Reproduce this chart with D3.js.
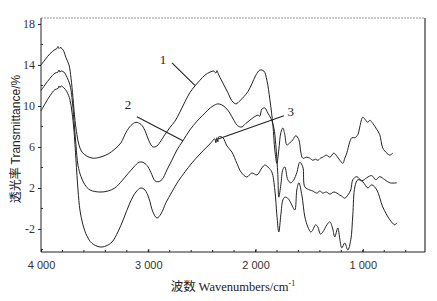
<!DOCTYPE html>
<html><head><meta charset="utf-8">
<script src="https://cdn.jsdelivr.net/npm/d3@7"></script>
<style>body{margin:0;background:#fff;} svg{display:block;}</style>
</head><body><svg id="c" width="437" height="301"></svg>
<script>
// Spectrum 1 (top)
const wn1 = [4000,3963,3916,3870,3852,3842,3832,3823,3804,3786,3767,3739,3720,3702,3683,3665,3646,3618,3571,3516,3450,3376,3311,3255,3208,3161,3115,3068,3031,2994,2957,2919,2882,2845,2798,2752,2705,2658,2612,2565,2519,2472,2425,2388,2370,2360,2350,2332,2295,2258,2220,2183,2146,2109,2071,2034,1997,1960,1922,1894,1866,1838,1820,1801,1783,1764,1745,1727,1708,1680,1652,1624,1596,1578,1559,1522,1494,1466,1440,1419,1395,1373,1340,1307,1270,1242,1214,1186,1168,1149,1121,1102,1074,1046,1028,1000,972,953,935,907,869,842,814,776,748,720,683];
const t1  = [14.0,14.5,15.1,15.5,15.6,15.8,15.6,15.7,15.6,15.3,14.7,14.0,12.7,10.8,8.6,7.2,6.2,5.5,5.1,4.9,5.0,5.3,5.8,6.4,7.4,8.1,8.4,8.2,7.6,6.6,6.0,6.1,6.6,7.2,7.9,8.5,9.4,10.4,11.3,11.95,12.5,13.0,13.3,13.4,13.2,13.45,13.2,12.8,12.05,11.3,10.5,10.2,10.5,10.9,11.4,12.15,13.0,13.5,13.4,12.5,10.6,8.15,5.7,4.4,5.7,7.4,7.85,7.2,6.2,6.4,6.7,7.1,6.7,5.5,4.9,5.0,4.9,4.7,4.8,4.7,4.9,5.0,5.2,5.0,5.4,5.1,4.7,4.4,4.9,5.4,6.5,6.9,6.9,7.2,7.95,8.9,8.6,8.4,8.6,8.3,7.7,7.2,5.9,5.4,5.2,5.4];

// Spectrum 2 (middle)
const wn2 = [4000,3963,3916,3870,3842,3832,3823,3814,3786,3758,3730,3711,3693,3674,3655,3627,3590,3543,3450,3376,3311,3245,3189,3134,3087,3050,3012,2975,2938,2910,2873,2826,2780,2733,2677,2612,2547,2491,2444,2397,2351,2314,2276,2239,2202,2165,2127,2090,2053,2016,1978,1960,1941,1913,1885,1857,1829,1811,1792,1783,1764,1745,1727,1699,1671,1643,1615,1587,1559,1540,1494,1466,1429,1400,1373,1340,1307,1270,1242,1214,1196,1168,1140,1112,1093,1056,1009,963,916,879,842,795,748,683];
const t2  = [11.5,12.05,12.7,13.2,13.3,13.5,13.3,13.4,13.3,12.8,12.05,10.8,8.6,6.2,4.2,3.1,2.3,1.8,1.6,1.7,2.0,2.7,3.4,4.05,4.5,4.5,4.2,3.5,2.7,2.6,2.8,3.76,4.7,5.7,6.6,7.66,8.5,9.1,9.6,10.0,10.2,10.1,9.8,9.3,8.6,8.05,7.95,8.3,8.6,8.9,9.1,9.0,9.7,9.8,9.3,8.8,7.85,6.2,3.3,1.1,2.3,3.8,4.05,2.8,2.5,2.8,3.5,4.5,4.05,2.1,1.8,1.7,1.5,1.7,1.5,1.6,1.4,1.6,1.5,1.3,1.2,1.0,1.3,1.8,2.8,3.1,2.7,3.0,3.2,2.8,3.1,2.8,2.5,2.5];

// Spectrum 3 (bottom)
const wn3 = [4000,3963,3916,3870,3842,3832,3823,3814,3786,3758,3730,3711,3693,3674,3655,3637,3609,3571,3525,3450,3394,3338,3283,3227,3171,3115,3068,3031,2994,2957,2919,2882,2836,2780,2724,2658,2593,2519,2463,2416,2379,2370,2360,2351,2342,2304,2267,2220,2174,2136,2081,2034,1987,1941,1913,1876,1848,1820,1801,1783,1764,1745,1727,1699,1671,1634,1615,1596,1568,1540,1512,1485,1466,1440,1419,1395,1373,1335,1307,1280,1261,1233,1214,1196,1168,1140,1112,1093,1074,1046,1000,953,916,869,814,748,702,683];
const t3  = [9.5,10.2,11.0,11.6,11.7,11.95,11.8,11.95,11.76,11.37,10.6,9.4,7.66,4.73,1.8,-0.15,-1.6,-2.7,-3.4,-3.76,-3.66,-3.27,-2.3,-0.93,0.54,1.6,2.0,1.8,1.0,-0.34,-0.93,-0.54,0.54,1.6,2.6,3.56,4.44,5.3,5.9,6.4,6.8,6.4,6.9,6.5,7.0,6.9,6.1,5.5,4.4,3.56,3.07,3.46,3.27,3.95,4.24,3.95,3.56,1.8,-0.63,-2.3,-0.63,0.83,1.1,1.0,0.54,-0.15,1.8,2.5,1.3,-0.83,-1.81,-2.3,-2.1,-1.6,-1.81,-2.5,-2.3,-1.6,-1.3,-2.0,-2.78,-1.9,-3.0,-3.85,-3.37,-4.05,-3.07,-0.63,2.1,2.8,2.6,2.0,2.3,1.8,0.15,-1.1,-1.6,-1.4];

const xTicks = [4000, 3000, 2000, 1000];
const xTickLabels = ["4 000", "3 000", "2 000", "1 000"];
const yTicks = [18, 14, 10, 6, 2, -2];
const yTickLabels = ["18", "14", "10", "6", "2", "-2"];
const curveNames = ["1", "2", "3"];
// label anchor (wavenumber, T) and leader line ends
const labelWn = [2863, 3189, 1671];
const labelT  = [14.5, 10.1, 9.5];
const leadFromWn = [2779, 3106, 1736];
const leadFromT  = [14.2, 8.95, 9.05];
const leadToWn   = [2565, 2677, 2342];
const leadToT    = [12.0, 6.6, 6.8];

const svg = d3.select("#c");
const L = 41, R = 425, T = 18, B = 252;
const x = d3.scaleLinear().domain([4000, 420]).range([L, R]);
const y = d3.scaleLinear().domain([-4.25, 18.58]).range([B, T]);
const ink = "#222";

// frame
svg.append("line").attr("x1", L).attr("x2", R).attr("y1", T).attr("y2", T)
  .attr("stroke", "#999").attr("stroke-width", 1).attr("stroke-dasharray", "2,1");
svg.append("line").attr("x1", R).attr("x2", R).attr("y1", T).attr("y2", B)
  .attr("stroke", "#333").attr("stroke-width", 1.2);

// x axis
const xa = svg.append("g").attr("transform", `translate(0,${B})`)
  .call(d3.axisBottom(x).tickValues(xTicks).tickSize(3).tickPadding(6)
    .tickFormat((d, i) => xTickLabels[i]));
xa.select(".domain").attr("stroke", ink).attr("d", `M${L},0H${R}`);
xa.selectAll(".tick line").attr("stroke", ink).attr("y2", -3);
xa.selectAll("text").attr("font-family", "Liberation Sans, Arial, sans-serif")
  .attr("font-size", 11).attr("fill", "#333");
svg.append("g").selectAll("line").data(d3.range(3800, 500, -200))
  .join("line").attr("x1", d => x(d)).attr("x2", d => x(d))
  .attr("y1", B).attr("y2", B - 2).attr("stroke", ink);

// y axis
const ya = svg.append("g").attr("transform", `translate(${L},0)`)
  .call(d3.axisLeft(y).tickValues(yTicks).tickSize(3).tickPadding(3)
    .tickFormat((d, i) => yTickLabels[i]));
ya.select(".domain").attr("stroke", ink).attr("d", `M0,${T}V${B}`);
ya.selectAll(".tick line").attr("stroke", ink);
ya.selectAll("text").attr("font-family", "Liberation Serif, Times New Roman, serif")
  .attr("font-size", 12).attr("fill", "#333");
svg.append("g").selectAll("line").data(d3.range(-4, 19, 2).filter(v => !yTicks.includes(v)))
  .join("line").attr("x1", L).attr("x2", L + 2)
  .attr("y1", d => y(d)).attr("y2", d => y(d)).attr("stroke", ink);

// spectra
const line = d3.line().x(d => x(d[0])).y(d => y(d[1])).curve(d3.curveCatmullRom.alpha(0.5));
[[wn1, t1], [wn2, t2], [wn3, t3]].forEach(([w, t]) => {
  svg.append("path").datum(w.map((v, i) => [v, t[i]]))
    .attr("d", line).attr("fill", "none").attr("stroke", ink).attr("stroke-width", 1);
});

// curve labels and leader lines
curveNames.forEach((n, i) => {
  svg.append("line")
    .attr("x1", x(leadFromWn[i])).attr("y1", y(leadFromT[i]))
    .attr("x2", x(leadToWn[i])).attr("y2", y(leadToT[i]))
    .attr("stroke", ink).attr("stroke-width", 1.1);
  svg.append("text").attr("x", x(labelWn[i])).attr("y", y(labelT[i]))
    .attr("text-anchor", "middle").attr("dominant-baseline", "central")
    .attr("font-family", "Liberation Serif, Times New Roman, serif")
    .attr("font-size", 13).attr("fill", ink).text(n);
});

// axis titles
const yt = svg.append("text").attr("transform", "translate(20,139) rotate(-90)")
  .attr("text-anchor", "middle").attr("font-size", 12).attr("fill", ink);
yt.append("tspan").attr("font-family", "Noto Sans CJK SC").text("透光率 ");
yt.append("tspan").attr("font-family", "Liberation Sans Narrow, Liberation Sans, sans-serif").text("Transmittance/%");

const xt = svg.append("text").attr("x", 233).attr("y", 291)
  .attr("text-anchor", "middle").attr("font-size", 12.5).attr("fill", ink);
xt.append("tspan").attr("font-family", "Noto Sans CJK SC").text("波数 ");
xt.append("tspan").attr("font-family", "Liberation Serif, serif").text("Wavenumbers/cm");
xt.append("tspan").attr("font-family", "Liberation Serif, serif").attr("font-size", 8)
  .attr("dy", -5).text("-1");
</script></body></html>
